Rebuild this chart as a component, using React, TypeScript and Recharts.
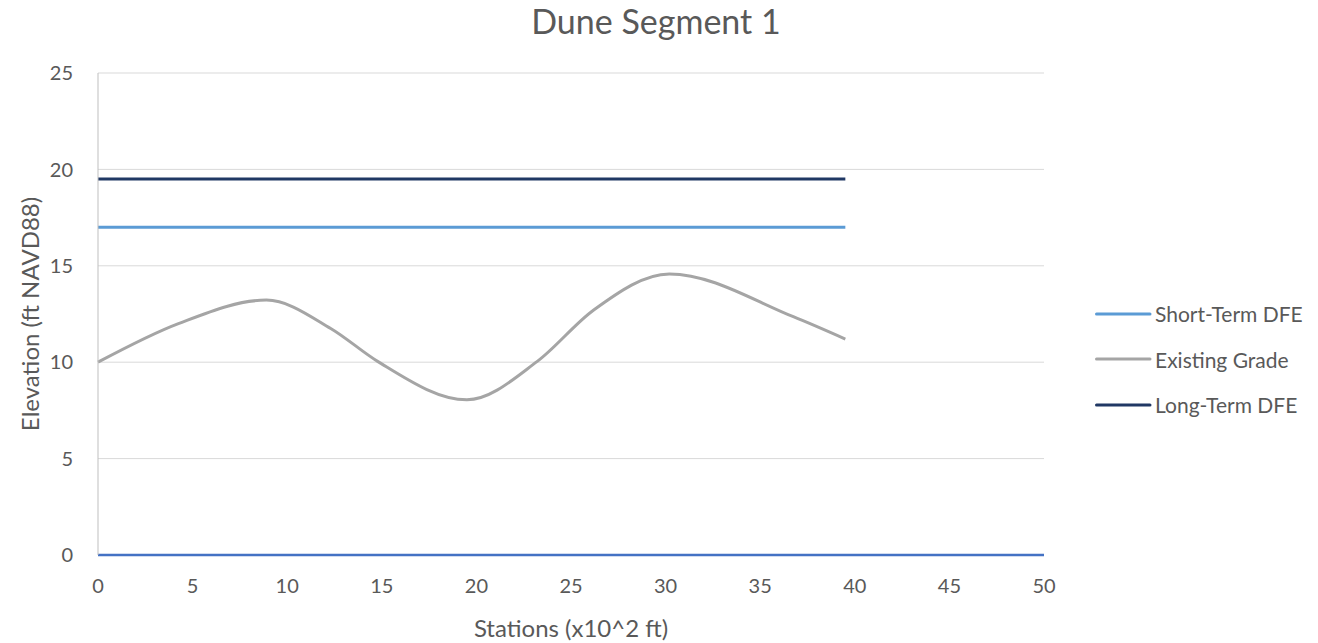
import { LineChart, Line, XAxis, YAxis, CartesianGrid } from 'recharts';

// Stations are in hundreds of feet, elevations in ft NAVD88
const stationTicks = [0, 5, 10, 15, 20, 25, 30, 35, 40, 45, 50];
const elevationTicks = [0, 5, 10, 15, 20, 25];

const segmentStart = 0;
const segmentEnd = 39.5;
const shortTermDfe = 17;
const longTermDfe = 19.5;

const gradeStations = [0, 4.25, 8.9, 12.3, 14.8, 19.5, 23.2, 26.2, 30.2, 36.75, 39.5];
const gradeElevations = [10.0, 12.0, 13.22, 11.75, 10.03, 8.05, 10.03, 12.71, 14.58, 12.36, 11.2];

const FONT = 'Lato, "Open Sans", sans-serif';
const TEXT = '#595959';

const shortTermData = [
  { station: segmentStart, elev: shortTermDfe },
  { station: segmentEnd, elev: shortTermDfe },
];
const longTermData = [
  { station: segmentStart, elev: longTermDfe },
  { station: segmentEnd, elev: longTermDfe },
];
const gradeData = gradeStations.map((s, i) => ({ station: s, elev: gradeElevations[i] }));

const legendItems = [
  { name: 'Short-Term DFE', color: '#5B9BD5' },
  { name: 'Existing Grade', color: '#A5A5A5' },
  { name: 'Long-Term DFE', color: '#203864' },
];

function SideLegend() {
  return (
    <div style={{ position: 'absolute', left: 1095, top: 291, fontFamily: FONT, fontSize: 21, color: TEXT }}>
      {legendItems.map((it) => (
        <div key={it.name} style={{ display: 'flex', alignItems: 'center', height: 45.5, whiteSpace: 'nowrap' }}>
          <svg width={57} height={6}>
            <line x1={1.5} y1={3} x2={55} y2={3} stroke={it.color} strokeWidth={3} strokeLinecap="round" />
          </svg>
          <span style={{ marginLeft: 3 }}>{it.name}</span>
        </div>
      ))}
    </div>
  );
}

export default function App() {
  return (
    <div style={{ position: 'absolute', left: 0, top: 0, width: 1318, height: 643, background: '#fff' }}>
      <div
        style={{
          position: 'absolute',
          left: 0,
          width: 1312,
          top: 4,
          textAlign: 'center',
          fontFamily: FONT,
          fontSize: 34,
          lineHeight: '34px',
          color: TEXT,
        }}
      >
        Dune Segment 1
      </div>
      <LineChart width={1318} height={643} margin={{ top: 73, right: 274, left: 38, bottom: 58 }}>
        <CartesianGrid vertical={false} stroke="#D9D9D9" strokeWidth={1} />
        <XAxis
          type="number"
          dataKey="station"
          domain={[0, 50]}
          ticks={stationTicks}
          height={30}
          tickLine={false}
          axisLine={{ stroke: '#4472C4', strokeWidth: 2.5 }}
          tick={{ fill: TEXT, fontSize: 20, fontFamily: FONT }}
          tickMargin={18}
          label={{ value: 'Stations (x10^2 ft)', position: 'insideBottom', offset: -52, fill: TEXT, fontSize: 24, fontFamily: FONT }}
        />
        <YAxis
          type="number"
          domain={[0, 25]}
          ticks={elevationTicks}
          width={60}
          tickLine={false}
          axisLine={{ stroke: '#BFBFBF', strokeWidth: 1 }}
          tick={{ fill: TEXT, fontSize: 20, fontFamily: FONT }}
          tickMargin={19}
          label={{ value: 'Elevation (ft NAVD88)', angle: -90, position: 'center', dx: -38, fill: TEXT, fontSize: 24, fontFamily: FONT }}
        />
        <Line data={shortTermData} dataKey="elev" name="Short-Term DFE" stroke="#5B9BD5" strokeWidth={3} dot={false} isAnimationActive={false} />
        <Line data={gradeData} dataKey="elev" name="Existing Grade" type="monotone" stroke="#A5A5A5" strokeWidth={3} dot={false} isAnimationActive={false} />
        <Line data={longTermData} dataKey="elev" name="Long-Term DFE" stroke="#203864" strokeWidth={3} dot={false} isAnimationActive={false} />
      </LineChart>
      <SideLegend />
    </div>
  );
}
